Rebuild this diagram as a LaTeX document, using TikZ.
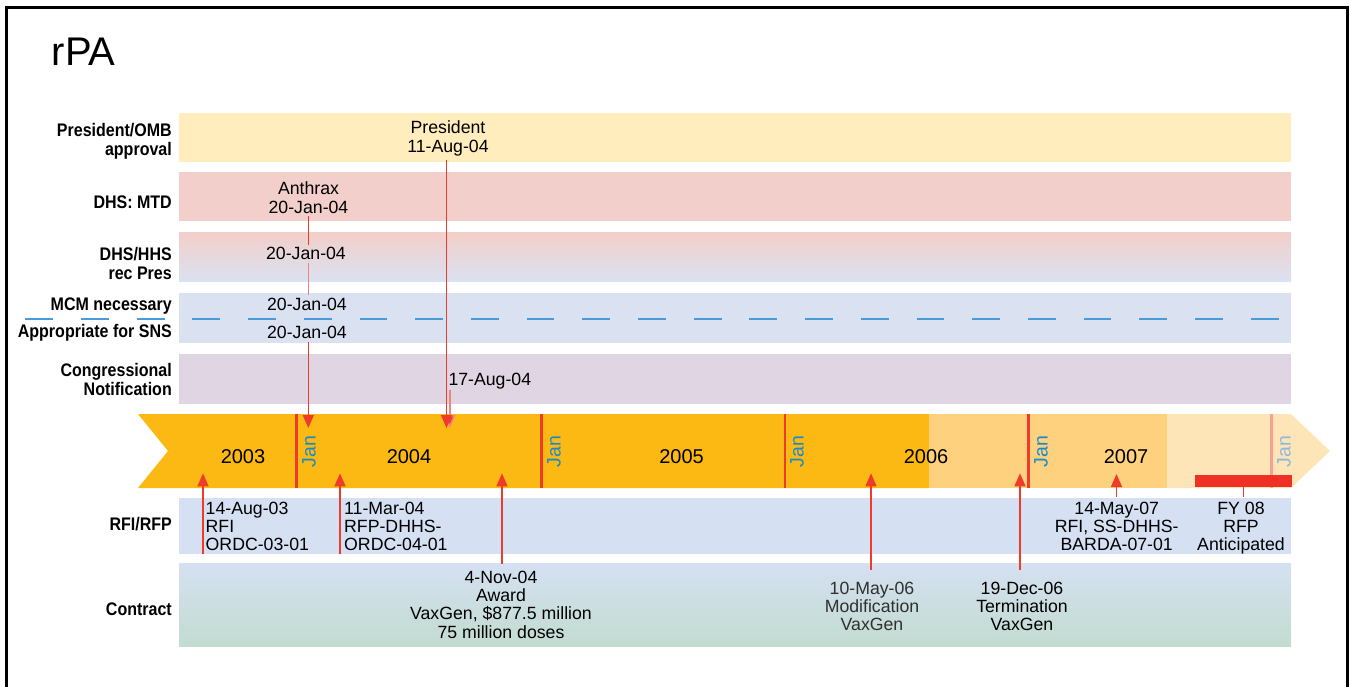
\documentclass[tikz,border=0pt]{standalone}
\usepackage{fontspec}
\setmainfont{Liberation Sans}
\newfontfamily\lblfont[FakeStretch=0.88]{Liberation Sans Bold}
\usetikzlibrary{arrows.meta}
\definecolor{cPres}{HTML}{FFEDBE}
\definecolor{cMTD}{HTML}{F2CFCA}
\definecolor{cMCM}{HTML}{DAE2F2}
\definecolor{cCon}{HTML}{E0D5E2}
\definecolor{cRFI}{HTML}{D5E0F2}
\definecolor{cCtrB}{HTML}{C2DCCF}
\definecolor{tlA}{HTML}{FDB913}
\definecolor{tlB}{HTML}{FDD17E}
\definecolor{tlC}{HTML}{FEE5B7}
\definecolor{tlred}{HTML}{EE3B2A}
\definecolor{tlredL}{HTML}{F2827A}
\definecolor{janblue}{HTML}{1B8ACB}
\definecolor{janblueL}{HTML}{8FB8E0}
\definecolor{janlineL}{HTML}{F4A490}
\definecolor{dashblue}{HTML}{4A9BD9}
\definecolor{fyred}{HTML}{EE3124}
\definecolor{modgray}{HTML}{303030}
\begin{document}
\begin{tikzpicture}[x=1pt,y=-1pt,
  lbl/.style={font=\lblfont\fontsize{18.2}{19.3}\selectfont, inner sep=0, align=right},
  evt/.style={font=\fontsize{17.7}{18.3}\selectfont, inner sep=0, align=center},
  evl/.style={evt, align=left},
  yr/.style={font=\fontsize{20}{24}\selectfont, inner sep=0},
  jan/.style={font=\fontsize{19.5}{22}\selectfont, inner sep=0, rotate=90, text=janblue},
  janline/.style={draw=tlred, line width=2.6pt},
  conn/.style={draw=tlred, line width=1.5pt},
  connL/.style={draw=tlredL, line width=1.5pt},
  tip/.style={-{Triangle[width=11pt,length=13pt]}},
  uparrow/.style={conn, tip},
  downarrow/.style={conn, tip},
  downarrowL/.style={connL, -{Triangle[width=11pt,length=13pt,fill=tlred]}},
]
\useasboundingbox (0,0) rectangle (1350,687);
% frame
\draw[line width=3pt] (6.5,700) -- (6.5,7.5) -- (1347,7.5) -- (1347,700);
% title
\node[anchor=base west, font=\fontsize{40}{42}\selectfont, inner sep=0] (title) at (51.5,66) {rPA};
% bands
\fill[cPres] (179,113) rectangle (1291,162);
\fill[cMTD] (179,172) rectangle (1291,221.5);
\shade[top color=cMTD, bottom color=cMCM] (179,233) rectangle (1291,282);
\fill[cMCM] (179,293) rectangle (1291,343);
\fill[cCon] (179,354) rectangle (1291,403.5);
\fill[cRFI] (179,497.5) rectangle (1291,553.5);
\shade[top color=cRFI, bottom color=cCtrB] (179,563.5) rectangle (1291,646);
% dashed separator
\coordinate (dashL) at (25.3,318.8);
\coordinate (dashR) at (1278.5,318.8);
\draw[dashblue, line width=1.8pt, dash pattern=on 27.8pt off 27.9pt] (dashL) -- (dashR);
% row labels
\node[lbl, anchor=north east] (Lpres) at (172,122.7) {President/OMB\\approval};
\node[lbl, anchor=base east] (Lmtd) at (172,209) {DHS: MTD};
\node[lbl, anchor=north east] (Lhhs) at (172,246.7) {DHS/HHS\\rec Pres};
\node[lbl, anchor=base east] (Lmcm) at (172,310) {MCM necessary};
\node[lbl, anchor=base east] (Lsns) at (172,337.3) {Appropriate for SNS};
\node[lbl, anchor=north east] (Lcon) at (172,362.7) {Congressional\\Notification};
\node[lbl, anchor=base east] (Lrfi) at (172,530) {RFI/RFP};
\node[lbl, anchor=base east] (Lctr) at (172,615) {Contract};
% timeline arrow
\fill[tlA] (138,414) -- (929,414) -- (929,488) -- (138,488) -- (168,451) -- cycle;
\fill[tlB] (929,414) rectangle (1167,488);
\fill[tlC] (1167,414) -- (1291,414) -- (1330,451) -- (1291,488) -- (1167,488) -- cycle;
% Jan lines
\draw[janline] (296.7,414) -- (296.7,488);
\draw[janline] (541.7,414) -- (541.7,488);
\draw[janline] (785,414) -- (785,488);
\draw[janline] (1028.7,414) -- (1028.7,488);
\draw[janline, draw=janlineL] (1271.7,414) -- (1271.7,488);
% Jan labels
\node[jan] (j04) at (309,451.3) {Jan};
\node[jan] (j05) at (554,451.3) {Jan};
\node[jan] (j06) at (797,451.3) {Jan};
\node[jan] (j07) at (1041,451.3) {Jan};
\node[jan, text=janblueL] (j08) at (1284,451.3) {Jan};
% years
\node[yr, anchor=base] (y03) at (243,463.3) {2003};
\node[yr, anchor=base] (y04) at (409,463.3) {2004};
\node[yr, anchor=base] (y05) at (681.5,463.3) {2005};
\node[yr, anchor=base] (y06) at (926,463.3) {2006};
\node[yr, anchor=base] (y07) at (1126,463.3) {2007};
% FY 08 bar
\node[fill=fyred, minimum width=96.5pt, minimum height=12.5pt, inner sep=0, outer sep=0] (fybar) at (1243.3,481.2) {};
% event texts
\node[evt, anchor=north] (pres) at (448,120.7) {President\\11-Aug-04};
\node[evt, anchor=north] (anth) at (308.5,181.7) {Anthrax\\20-Jan-04};
\node[evt, anchor=north] (hhs) at (306,247.3) {20-Jan-04};
\node[evt, anchor=north] (mcm) at (307,297.7) {20-Jan-04};
\node[evt, anchor=north] (sns) at (307,326) {20-Jan-04};
\node[evt, anchor=north west] (cong) at (448.3,373.3) {17-Aug-04};
\node[evl, anchor=north west] (rfi1) at (205.5,501.7) {14-Aug-03\\RFI\\ORDC-03-01};
\node[evl, anchor=north west] (rfp1) at (344,501.7) {11-Mar-04\\RFP-DHHS-\\ORDC-04-01};
\node[evt, anchor=north] (award) at (501,570.7) {4-Nov-04\\Award\\VaxGen, \$877.5 million\\75 million doses};
\node[evt, anchor=north, text=modgray] (mod) at (872,581.7) {10-May-06\\Modification\\VaxGen};
\node[evt, anchor=north] (term) at (1022,581.7) {19-Dec-06\\Termination\\VaxGen};
\node[evt, anchor=north] (rfi2) at (1116.7,501.7) {14-May-07\\RFI, SS-DHHS-\\BARDA-07-01};
\node[evt, anchor=north] (fy) at (1241,501.7) {FY 08\\RFP\\Anticipated};
% arrow tips
\coordinate (tAnth) at (308.3,428);
\coordinate (tPres) at (446.5,428);
\coordinate (tCong) at (449.8,428);
\coordinate (b1) at (203,553.5);
\coordinate (t1) at (203,473.3);
\coordinate (b2) at (340,553.5);
\coordinate (t2) at (340,473.3);
\coordinate (t3) at (502,473.3);
\coordinate (t4) at (871,473.3);
\coordinate (t5) at (1020,473.3);
\coordinate (t6) at (1116.5,474);
% connectors
\draw[conn, shorten <=3pt, shorten >=2pt] (anth.south -| tAnth) -- (hhs.north -| tAnth);
\draw[connL, shorten <=3pt, shorten >=3pt] (hhs.south -| tAnth) -- (mcm.north -| tAnth);
\draw[downarrow, shorten <=3.5pt] (sns.south -| tAnth) -- (tAnth);
\draw[downarrowL] (cong.south west -| tCong) -- (tCong);
\draw[downarrow, shorten <=4pt] (pres.south -| tPres) -- (tPres);
\draw[uparrow] (b1) -- (t1);
\draw[uparrow] (b2) -- (t2);
\draw[uparrow, shorten <=6.5pt] (award.north -| t3) -- (t3);
\draw[uparrow, shorten <=11.5pt] (mod.north -| t4) -- (t4);
\draw[uparrow, shorten <=11.5pt] (term.north -| t5) -- (t5);
\draw[uparrow, shorten <=4.5pt] (rfi2.north -| t6) -- (t6);
\draw[conn, line width=1.3pt, shorten >=4.5pt] (fybar.south) -- (fybar.south |- fy.north);
\end{tikzpicture}
\end{document}
